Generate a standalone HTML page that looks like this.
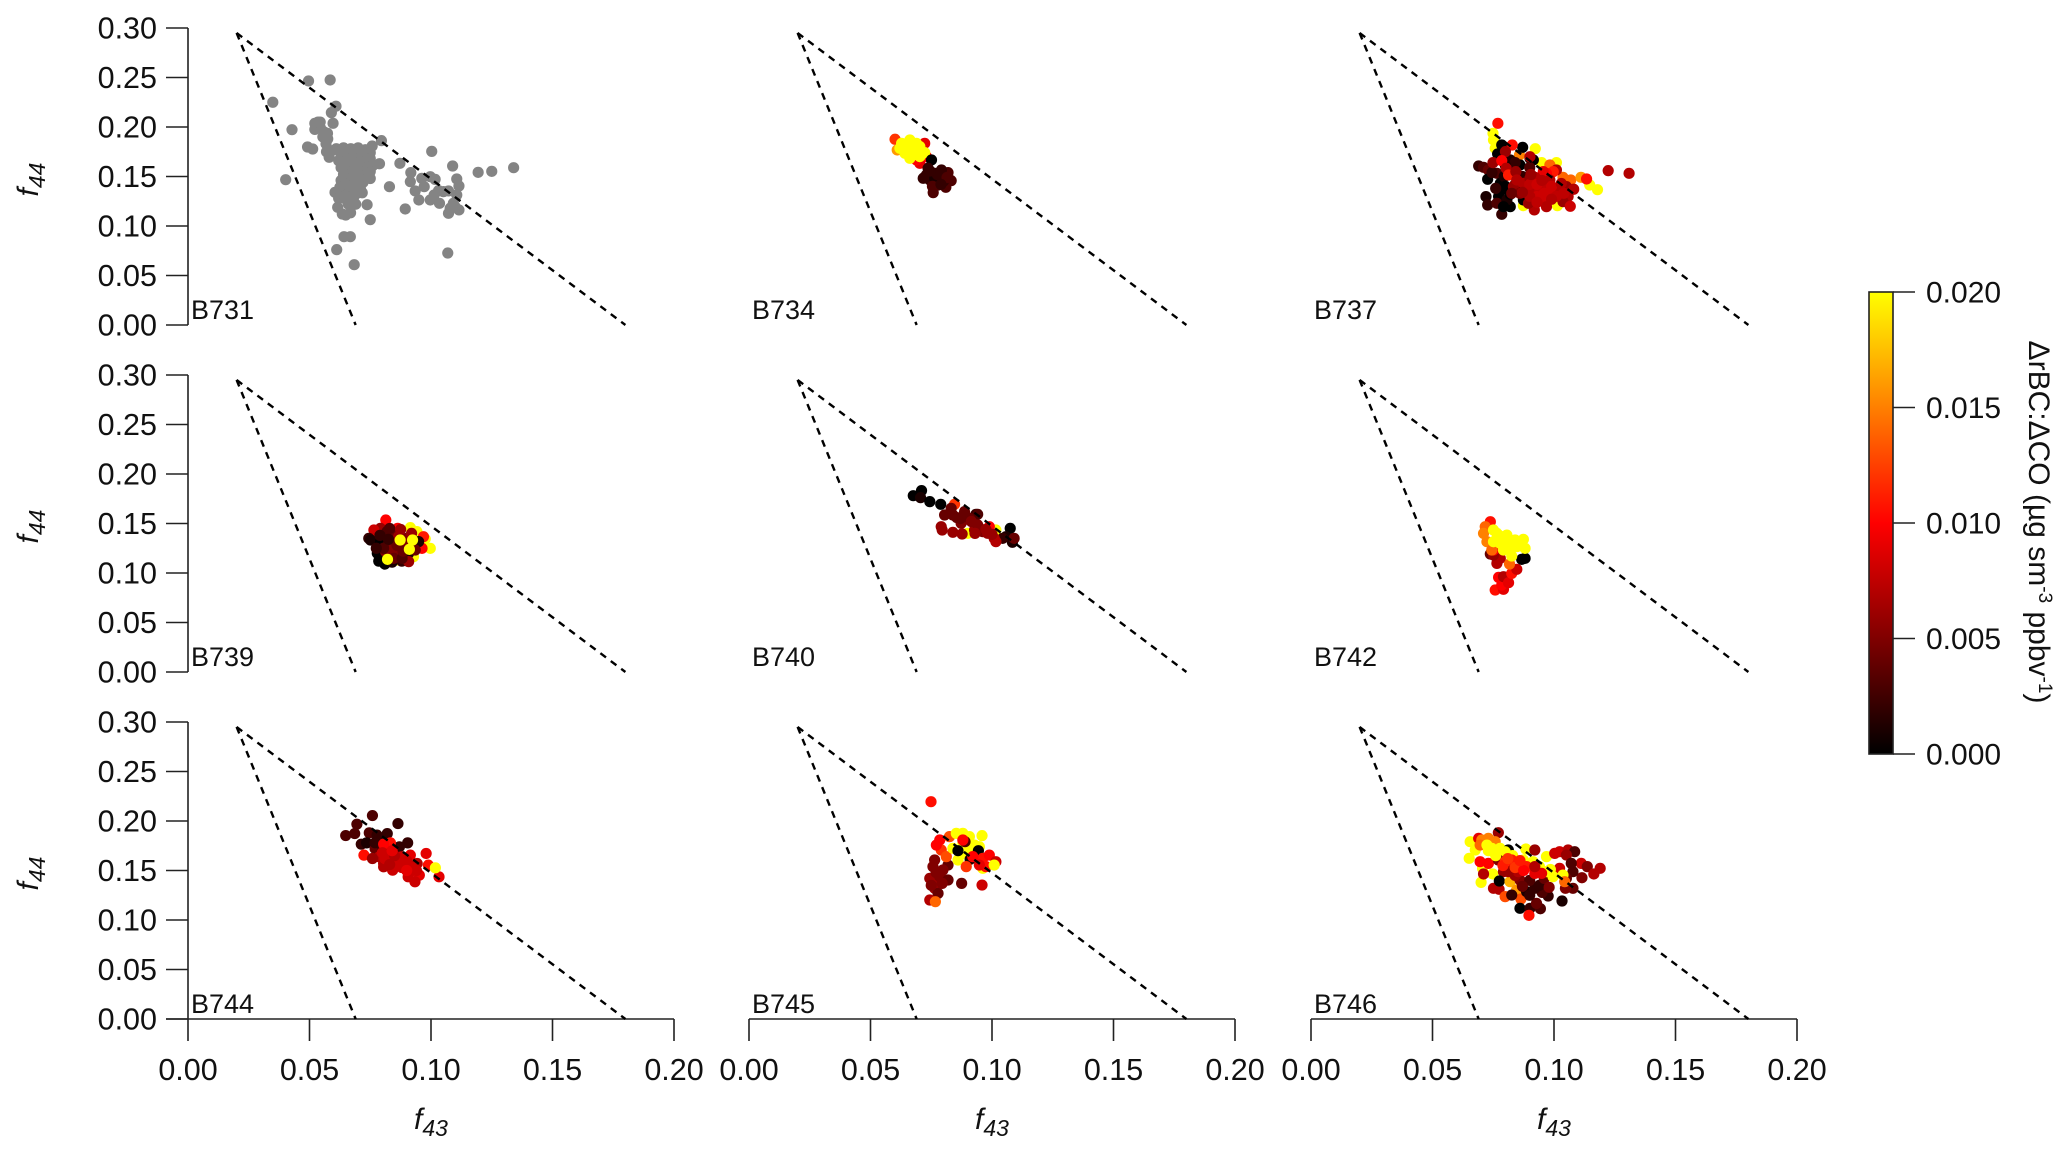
<!DOCTYPE html>
<html lang="en">
<head>
<meta charset="utf-8">
<title>f44 vs f43 by flight</title>
<style>
html,body{margin:0;padding:0;background:#fff;width:2067px;height:1155px;overflow:hidden}
svg{display:block}
text{font-family:"Liberation Sans",sans-serif;fill:#111}
</style>
</head>
<body>
<svg id="chart" xmlns="http://www.w3.org/2000/svg" width="2067" height="1155" viewBox="0 0 2067 1155"></svg>
<script>
const xTickLabels = ["0.00","0.05","0.10","0.15","0.20"];
const yTickLabels = ["0.00","0.05","0.10","0.15","0.20","0.25","0.30"];
const colorTickLabels = ["0.000","0.005","0.010","0.015","0.020"];
const triangleApex = [0.02,0.295];
const triangleLeftBase = [0.069,0];
const triangleRightBase = [0.18,0];

const b731Points = [
[.0496,.2465],[.0585,.2475],[.0349,.225],[.0609,.221],[.059,.2145],[.0597,.2037],[.0544,.205],[.0522,.2037],[.0522,.1976],[.0428,.1973],
[.0574,.1936],[.0555,.19],[.0568,.183],[.0545,.199],[.056,.195],[.0535,.205],[.0575,.188],[.059,.176],[.0492,.1798],[.0513,.1778],[.0796,.1862],[.0758,.1808],[.057,.175],[.0581,.1694],[.0788,.1629],
[.0872,.1633],[.1003,.1754],[.1089,.1606],[.1194,.1542],[.125,.1552],[.134,.1589],[.0402,.1468],[.0829,.1397],[.0894,.1172],[.075,.1064],
[.0737,.1215],[.0717,.1336],[.0616,.1189],[.0642,.0892],[.0668,.0892],[.0612,.0761],[.0684,.0609],[.1069,.0727],[.0649,.1111],[.0669,.1134],[.0635,.1121],
[.0917,.1539],[.0915,.1448],[.0935,.1354],[.095,.1263],[.0962,.1481],[.0972,.1397],[.0997,.1498],[.1017,.1471],[.0997,.1263],[.1013,.1313],
[.1031,.1357],[.1051,.1347],[.1072,.1354],[.1106,.1475],[.1115,.1404],[.1106,.1313],[.1035,.1229],[.1092,.1229],[.1079,.1179],[.1072,.1128],[.1115,.1162],[.1099,.1195],
[.061,.178],[.064,.179],[.067,.178],[.07,.179],[.073,.177],[.075,.174],[.063,.172],[.066,.173],[.069,.172],[.072,.171],[.075,.168],
[.0625,.175],[.0655,.175],[.0685,.175],[.0715,.175],[.0645,.169],[.0675,.169],[.0705,.168],[.0735,.167],
[.062,.166],[.065,.166],[.068,.165],[.071,.165],[.074,.163],[.076,.161],[.063,.159],[.066,.159],[.069,.159],[.072,.158],[.075,.155],
[.0645,.162],[.0675,.162],[.0705,.162],[.0735,.159],[.065,.156],[.068,.155],[.071,.155],[.073,.154],
[.064,.152],[.067,.152],[.07,.152],[.073,.151],[.075,.148],[.063,.146],[.066,.145],[.069,.145],[.072,.144],[.0625,.139],[.065,.139],[.068,.138],[.071,.137],
[.0645,.149],[.0675,.149],[.0705,.148],[.065,.142],[.068,.142],[.0705,.141],
[.0605,.134],[.063,.133],[.066,.133],[.069,.132],[.062,.128],[.065,.127],[.068,.127],[.066,.122],[.069,.122],[.0645,.13],[.0675,.13],[.0665,.125]
];
const b734Points = [
[.0601,.1876,.012],[.061,.1768,.016],[.0703,.1633,.009],[.0723,.1835,.009],[.073,.1701,.01],[.0689,.1667,.01],
[.0628,.1835,.02],[.0662,.1869,.02],[.0689,.1835,.02],[.0621,.1785,.02],[.0655,.1751,.02],[.0683,.1802,.02],[.0703,.1802,.02],[.0662,.1684,.02],[.0703,.1701,.02],[.0723,.1741,.02],[.0642,.1734,.02],
[.0675,.1765,.02],[.0695,.1755,.02],[.065,.181,.02],[.0678,.172,.02],
[.0751,.1667,0],[.0737,.1583,.002],[.0764,.1532,.002],[.0717,.1482,.002],[.0744,.1465,.002],[.0785,.1499,.003],[.0819,.1539,.003],[.0832,.1458,.003],[.081,.1391,.003],[.0758,.1337,.003],[.0778,.1414,.003],[.073,.1515,.002],[.0792,.1566,.002],[.0764,.1482,.001],
[.0755,.14,.003],[.08,.145,.002],[.0775,.152,.002],[.0745,.1555,.002],[.0815,.149,.003],[.079,.142,.002]
];
const b737Points = [
[.0749,.1936,.02],[.0751,.1869,.02],[.0758,.1785,.02],[.0923,.1781,.02],[.101,.164,.02],[.0949,.164,.02],[.0874,.1206,.02],[.1014,.1206,.02],[.1147,.1414,.02],[.1179,.1367,.02],
[.0858,.1717,.015],[.0983,.1616,.014],[.1037,.1492,.014],[.1069,.1465,.014],[.1111,.1492,.016],
[.069,.1606,.002],[.071,.1593,.003],[.073,.1566,.004],[.0765,.1532,.003],[.0727,.1472,0],[.0785,.1818,0],[.0768,.1728,0],[.0871,.1795,0],[.086,.1616,0],[.082,.1667,.001],[.0901,.1684,.001],[.0915,.1667,0],
[.0779,.1431,0],[.0785,.1364,0],[.0772,.1297,0],[.072,.1297,.001],[.0727,.1212,.002],[.0765,.1229,.003],[.0785,.1118,.002],[.082,.1195,0],[.0806,.1263,.001],[.0792,.1195,0],[.0874,.1263,0],
[.0745,.154,.002],[.0795,.15,.001],[.083,.157,.002],[.08,.14,0],[.082,.132,0],[.084,.142,.001],[.076,.138,.002],[.087,.15,.002],[.09,.159,.003],[.084,.164,.002],[.08,.161,.001],
[.0769,.2037,.0105],[.0828,.1818,.0105],[.08,.1751,.006],[.0749,.164,.006],[.0785,.166,.01],[.0803,.1583,.007],[.0813,.1515,.011],[.0843,.1549,.006],[.0901,.17,.007],[.101,.1566,.007],[.0997,.1549,.011],[.0969,.1532,.01],[.0956,.1549,.009],
[.1134,.1475,.0105],[.1223,.1559,.007],[.1309,.1532,.007],
[.0833,.1398,.006],[.0847,.1465,.007],[.0874,.1431,.007],[.0901,.1482,.006],[.0922,.1492,.007],[.0888,.1364,.007],[.0915,.1364,.007],[.0942,.1364,.0075],[.0969,.1398,.0075],[.0997,.133,.008],[.0956,.1263,.008],[.0929,.1297,.008],
[.0983,.1465,.007],[.1024,.1364,.007],[.1051,.1398,.006],[.1081,.1371,.007],[.1058,.1297,.007],[.1037,.1246,.006],[.1067,.1199,.008],[.0919,.1162,.007],[.0969,.1195,.007],[.0895,.1229,.006],[.086,.133,.005],[.0826,.133,.004],
[.09,.142,.0075],[.093,.142,.008],[.096,.133,.008],[.099,.14,.008],[.101,.13,.0075],[.09,.13,.007],[.093,.124,.0075],[.103,.143,.007],[.087,.134,.006],[.099,.127,.007],[.104,.133,.0075],[.095,.146,.007],[.0905,.152,.006]
];
const b739Points = [
[.0915,.1458,.02],[.0942,.1418,.02],[.0976,.1344,.02],[.0997,.1249,.02],[.0963,.1283,.02],[.0928,.1165,.02],[.086,.1131,.02],
[.0814,.1535,.01],[.0863,.1451,.01],[.0772,.1384,.0105],[.0969,.1367,.011],[.0963,.1249,.01],[.0792,.1451,.006],[.0765,.1434,.008],[.0779,.1283,.008],[.0744,.135,.002],[.0751,.1333,.001],
[.0779,.1199,0],[.0799,.1131,0],[.0792,.131,0],[.0908,.1199,.001],[.0949,.1317,.001],[.0785,.112,0],[.081,.109,0],[.084,.111,.001],[.088,.112,.002],
[.0819,.1418,.003],[.0826,.13,.003],[.0853,.1384,.004],[.0813,.1216,.005],[.084,.1232,.005],[.0867,.1199,.005],[.0894,.1283,.005],[.0908,.1115,.006],[.0847,.1148,.004],[.0881,.1148,.003],[.0935,.1232,.004],[.0867,.1367,.006],
[.079,.138,.002],[.083,.145,.003],[.0805,.125,.003],[.086,.128,.004],[.09,.135,.005],[.0875,.144,.006],[.0825,.134,.002],[.0885,.122,.004],[.0775,.125,.002],[.092,.14,.006],
[.0873,.1333,.02],[.0924,.1333,.02],[.0911,.1239,.02],[.0821,.1138,.02]
];
const b740Points = [
[.0846,.1694,.012],[.1016,.1434,.02],[.09,.1401,.02],[.0676,.1781,0],[.071,.1832,0],[.0706,.1761,.001],[.0744,.1721,0],[.0789,.1694,0],
[.1075,.1451,0],[.1057,.1367,.001],[.1084,.131,.001],[.1044,.135,.002],[.1091,.135,.004],[.0934,.1593,.002],
[.0832,.1653,.004],[.0805,.1586,.004],[.0839,.1586,.004],[.0887,.162,.004],[.0941,.1593,.003],[.0873,.1502,.005],[.0907,.1552,.004],[.0791,.1468,.006],[.0795,.1434,.006],[.0839,.1411,.006],[.0877,.1394,.006],
[.0928,.1434,.006],[.0941,.1485,.005],[.0962,.1418,.005],[.0982,.1401,.006],[.0989,.1468,.01],[.1009,.135,.007],[.1016,.1317,.007],
[.0855,.156,.004],[.089,.158,.004],[.0915,.152,.005],[.095,.145,.005],[.0975,.144,.006],[.087,.155,.004],[.1,.139,.006],[.093,.14,.006]
];
const b742Points = [
[.0738,.1518,.0105],[.0758,.0828,.0105],[.0792,.0835,.009],[.0785,.0878,.01],[.0772,.0956,.01],[.0792,.0963,.007],[.0813,.0902,.009],[.0826,.0996,.0105],[.0847,.1037,.008],[.0765,.1097,.007],[.0779,.1148,.007],[.0738,.1192,.004],[.0751,.1181,.006],[.0817,.1091,.014],[.0867,.1138,0],[.0881,.1148,0],[.0751,.1232,.01],
[.0717,.1468,.014],[.071,.14,.015],[.0724,.1316,.015],[.0744,.1232,.014],
[.0751,.1434,.02],[.0772,.1383,.02],[.0806,.1383,.02],[.0751,.1316,.02],[.0779,.1299,.02],[.0813,.1316,.02],[.084,.1333,.02],[.0874,.134,.02],[.0819,.1232,.02],[.0847,.1266,.02],[.0881,.1249,.02],[.0826,.1171,.02],[.0792,.1232,.02],
[.079,.135,.02],[.083,.128,.02],[.0765,.14,.02]
];
const b744Points = [
[.0649,.1853,.003],[.0695,.1968,.003],[.0759,.2055,.003],[.0864,.1974,.002],[.0686,.1873,.003],[.082,.1873,.002],[.0746,.188,.003],[.0904,.1779,.002],[.0713,.1766,.002],[.0735,.1779,.001],[.0783,.1806,.002],[.0778,.1857,.002],[.087,.1739,.002],
[.077,.172,.004],[.08,.173,.003],[.081,.17,.003],[.077,.178,.002],
[.0833,.1779,.0105],[.0805,.1766,.01],[.0724,.1655,.0105],[.098,.1672,.009],[.0989,.1554,.0105],[.1033,.1436,.009],
[.0787,.1638,.007],[.0824,.1655,.008],[.0851,.1604,.0075],[.0805,.1571,.007],[.0879,.1638,.008],[.0915,.1655,.009],[.0943,.1571,.007],[.0888,.1571,.007],[.0842,.1503,.008],[.0915,.1487,.009],[.0952,.1453,.009],[.0934,.1386,.008],[.0906,.1436,.008],[.0805,.1537,.007],[.0759,.1621,.006],
[.08,.168,.008],[.084,.16,.007],[.087,.158,.008],[.081,.162,.008],[.083,.156,.007],[.085,.165,.007],[.09,.16,.008],[.088,.153,.008],[.092,.153,.008],[.094,.15,.008],[.09,.15,.009],[.084,.17,.009],
[.1018,.1527,.02]
];
const b745Points = [
[.0764,.1606,.005],[.0757,.1539,.005],[.0744,.1421,.006],[.0764,.1404,.006],[.0785,.1438,.005],[.0764,.132,.006],[.0778,.1269,.004],[.0744,.1202,.007],[.0819,.1404,.004],[.0875,.137,.004],[.0959,.1353,.008],[.0819,.1555,.004],[.0798,.1505,.005],
[.077,.148,.005],[.0795,.137,.005],[.075,.135,.005],
[.0785,.1808,.01],[.0825,.1842,.013],[.0791,.1707,.012],[.0812,.164,.013],[.0771,.1757,.01],
[.0959,.1852,.02],[.0853,.1875,.02],[.088,.1875,.02],[.0907,.1842,.02],[.0839,.1724,.02],[.086,.1606,.02],[.0928,.1757,.02],[.0948,.174,.02],[.0962,.1522,.02],
[.088,.178,.02],[.09,.17,.02],[.087,.166,.02],
[.086,.17,0],[.0944,.17,0],[.091,.1613,.001],[.0889,.1791,.003],
[.0962,.1623,.0105],[.0989,.1656,.01],[.0921,.164,.01],[.1016,.1589,.008],[.0975,.1539,.0105],[.0948,.1555,.009],[.088,.1808,.01],[.0894,.1539,.012],
[.1009,.1555,.02],[.0767,.1185,.014],[.0749,.2195,.0105]
];
const b746Points = [
[.0771,.1882,.006],[.0655,.1791,.02],[.0676,.1707,.02],[.0651,.1623,.02],[.0706,.1522,.02],[.07,.138,.02],[.0748,.1465,.02],[.0884,.1717,.02],[.0969,.164,.02],
[.069,.1825,.009],[.0703,.1808,.015],[.073,.1825,.015],[.0758,.1791,.015],[.0696,.1757,.014],[.0724,.1757,.02],[.0744,.1724,.02],[.0778,.1724,.02],
[.0696,.1589,.01],[.073,.1572,.01],[.071,.1465,.007],[.0751,.132,.007],[.0774,.131,.007],[.0812,.1707,0],[.0799,.169,.02],[.0805,.1656,.02],
[.0771,.1606,.005],[.0792,.1488,.006],[.0775,.1394,0],[.0819,.1387,.017],[.0846,.1303,.016],[.0799,.1236,.013],[.0864,.1212,.013],[.0826,.1252,.002],[.086,.1118,0],[.0901,.1118,.002],[.0944,.1114,.003],[.0897,.1047,.0105],[.0928,.1168,.004],[.1033,.1192,.001],[.0976,.1242,.002],[.0951,.1279,.003],[.0887,.1286,.001],[.0921,.132,.002],[.086,.1404,.005],
[.0921,.1707,.006],[.1003,.1673,.008],[.1023,.169,.008],[.1058,.1707,.007],[.1085,.169,.003],[.1051,.1656,.006],[.1112,.1572,.008],[.1137,.1539,.005],[.119,.1522,.007],[.1164,.1465,.007],[.1115,.1427,.005],[.1071,.1572,.003],[.1078,.1488,.003],[.1023,.1522,.008],[.1051,.142,.004],[.1078,.132,.004],[.1047,.132,.005],
[.09,.14,.003],[.087,.134,.004],[.094,.135,.002],[.096,.142,.004],[.09,.125,.002],[.098,.133,.005],[.084,.145,.006],[.08,.154,.008],
[.0874,.1606,.02],[.0914,.1589,.02],[.0969,.1488,.02],[.0996,.1438,.02],[.1037,.1454,.02],[.083,.165,.02],[.094,.154,.02],[.0985,.151,.02],[.076,.165,.02],[.073,.17,.02],
[.0799,.1589,.012],[.0826,.1606,.011],[.0853,.1572,.011],[.0887,.1539,.011],[.0921,.1471,.009],[.0949,.1471,.009],[.0853,.1488,.007],[.0812,.1488,.006],[.0921,.1539,.007],[.1044,.1387,.014],
[.079,.155,.011],[.084,.153,.012],[.0875,.15,.01],[.081,.162,.012],[.086,.16,.011]
];

const panelNames = ["B731","B734","B737","B739","B740","B742","B744","B745","B746"];
const panelSeries = [b731Points,b734Points,b737Points,b739Points,b740Points,b742Points,b744Points,b745Points,b746Points];

const NS = "http://www.w3.org/2000/svg";
const svg = document.getElementById("chart");
const colLeft = [188,749,1311];
const rowTop = [28,375,722];
const plotW = 486, plotH = 297;
const xMax = 0.2, yMax = 0.3, vMax = 0.02;
const GREY = "#848484";

function make(tag, attrs, parent){
  const el = document.createElementNS(NS, tag);
  for(const k in attrs) el.setAttribute(k, attrs[k]);
  (parent||svg).appendChild(el);
  return el;
}
function xScale(left, v){ return left + v/xMax*plotW; }
function yScale(top, v){ return top + plotH - v/yMax*plotH; }
function heat(v){
  const t = Math.max(0, Math.min(1, v/vMax));
  if(t <= 0.5) return "rgb(" + Math.round(t*2*255) + ",0,0)";
  return "rgb(255," + Math.round((t-0.5)*2*255) + ",0)";
}

panelNames.forEach(function(name, i){
  const col = i % 3, row = Math.floor(i/3);
  const left = colLeft[col], top = rowTop[row];
  const g = make("g", {});
  
  

  if(col === 0){
    const ya = make("line", {x1:left,x2:left,y1:top,y2:top+plotH,stroke:"#222","stroke-width":1.6}, g);
    
    
    yTickLabels.forEach(function(lab){
      const y = yScale(top, parseFloat(lab));
      const tk = make("line", {x1:left-22,x2:left,y1:y,y2:y,stroke:"#222","stroke-width":1.6}, g);
      
      
      const tx = make("text", {x:left-31,y:y+10.5,"text-anchor":"end","font-size":30.5}, g);
      tx.textContent = lab;
      
      
    });
    const cy = top + plotH/2 + 3;
    const yt = make("text", {x:0,y:0,"font-size":30,"font-style":"italic","text-anchor":"middle",transform:"translate(38 "+cy+") rotate(-90)"}, g);
    
    
    const s1 = make("tspan", {}, yt); s1.textContent = "f";
    const s2 = make("tspan", {dy:7,"font-size":23}, yt); s2.textContent = "44";
  }
  if(row === 2){
    const base = top + plotH;
    const xa = make("line", {x1:col===0?left-22:left,x2:left+plotW,y1:base,y2:base,stroke:"#222","stroke-width":1.6}, g);
    
    
    xTickLabels.forEach(function(lab){
      const x = xScale(left, parseFloat(lab));
      const tk = make("line", {x1:x,x2:x,y1:base,y2:base+22,stroke:"#222","stroke-width":1.6}, g);
      
      
      const tx = make("text", {x:x,y:base+61,"text-anchor":"middle","font-size":30.5}, g);
      tx.textContent = lab;
      
      
    });
    const xt = make("text", {x:left+plotW/2,y:base+110,"font-size":30,"font-style":"italic","text-anchor":"middle"}, g);
    
    
    const s1 = make("tspan", {}, xt); s1.textContent = "f";
    const s2 = make("tspan", {dy:7,"font-size":23}, xt); s2.textContent = "43";
  }

  const pts = make("g", {}, g);
  
  
  panelSeries[i].forEach(function(p){
    const c = make("circle", {cx:xScale(left,p[0]),cy:yScale(top,p[1]),r:5.6,fill:p.length>2?heat(p[2]):GREY}, pts);
    
    
  });

  [triangleLeftBase, triangleRightBase].forEach(function(b, k){
    const l = make("line", {x1:xScale(left,triangleApex[0]),y1:yScale(top,triangleApex[1]),x2:xScale(left,b[0]),y2:yScale(top,b[1]),stroke:"#000","stroke-width":2.4,"stroke-dasharray":"7 6"}, g);
    
    
  });

  const lb = make("text", {x:left+3,y:top+plotH-6,"font-size":27}, g);
  lb.textContent = name;
  
  
});

const cbX = 1869, cbW = 24, cbTop = 292, cbH = 462;
const defs = make("defs", {});
const grad = make("linearGradient", {id:"heatGrad",x1:0,y1:1,x2:0,y2:0}, defs);
make("stop", {offset:"0%","stop-color":heat(0)}, grad);
make("stop", {offset:"50%","stop-color":heat(vMax/2)}, grad);
make("stop", {offset:"100%","stop-color":heat(vMax)}, grad);
const cb = make("g", {});


const cr = make("rect", {x:cbX,y:cbTop,width:cbW,height:cbH,fill:"url(#heatGrad)",stroke:"#222","stroke-width":1.6}, cb);


colorTickLabels.forEach(function(lab){
  const y = cbTop + cbH - parseFloat(lab)/vMax*cbH;
  const tk = make("line", {x1:cbX+cbW,x2:cbX+cbW+22,y1:y,y2:y,stroke:"#222","stroke-width":1.6}, cb);
  
  
  const tx = make("text", {x:cbX+cbW+33,y:y+10.5,"font-size":30}, cb);
  tx.textContent = lab;
  
  
});
const ct = make("text", {x:0,y:0,"font-size":30,"text-anchor":"middle",transform:"translate(2029 522) rotate(90)"}, cb);


const t1 = make("tspan", {}, ct); t1.textContent = "ΔrBC:ΔCO (µg sm";
const t2 = make("tspan", {dy:-10,"font-size":19}, ct); t2.textContent = "-3";
const t3 = make("tspan", {dy:10}, ct); t3.textContent = " ppbv";
const t4 = make("tspan", {dy:-10,"font-size":19}, ct); t4.textContent = "-1";
const t5 = make("tspan", {dy:10}, ct); t5.textContent = ")";
</script>
</body>
</html>
